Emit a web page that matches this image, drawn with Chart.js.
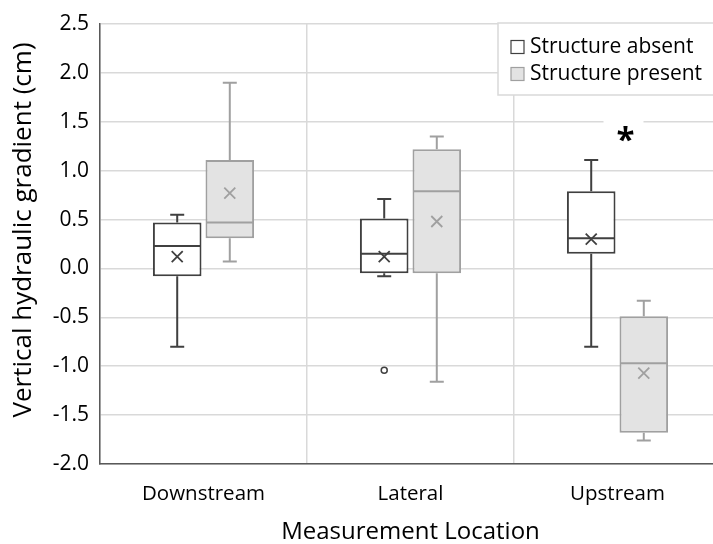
<!DOCTYPE html>
<html>
<head>
<meta charset="utf-8">
<script src="https://cdn.jsdelivr.net/npm/chart.js@4.4.1/dist/chart.umd.min.js"></script>
<style>
  html, body { margin: 0; padding: 0; background: #fff; overflow: hidden; }
  #wrap { width: 730px; height: 544px; }
</style>
</head>
<body>
<div id="wrap"><canvas id="boxChart"></canvas></div>
<script>
const locations = ['Downstream', 'Lateral', 'Upstream'];
const seriesNames = ['Structure absent', 'Structure present'];
const yTicks = [-2.0, -1.5, -1.0, -0.5, 0.0, 0.5, 1.0, 1.5, 2.0, 2.5];
const yTitle = 'Vertical hydraulic gradient (cm)';

// box summaries
const absentMin = [-0.80, -0.08, -0.80];
const absentQ1 = [-0.08, -0.05, 0.15];
const absentMedian = [0.23, 0.15, 0.31];
const absentQ3 = [0.47, 0.51, 0.79];
const absentMax = [0.55, 0.71, 1.11];
const absentMean = [0.12, 0.12, 0.30];
const absentOutliers = [[], [-1.04], []];

const presentMin = [0.07, -1.16, -1.76];
const presentQ1 = [0.31, -0.05, -1.68];
const presentMedian = [0.47, 0.79, -0.97];
const presentQ3 = [1.11, 1.22, -0.49];
const presentMax = [1.90, 1.35, -0.33];
const presentMean = [0.77, 0.48, -1.07];
const presentOutliers = [[], [], []];

// significance marker
const starLocation = 'Upstream';
const starValue = 1.38;

const FONT = '"Open Sans", "Noto Sans", sans-serif';

const stats = [
  { min: absentMin, q1: absentQ1, med: absentMedian, q3: absentQ3, max: absentMax, mean: absentMean, out: absentOutliers },
  { min: presentMin, q1: presentQ1, med: presentMedian, q3: presentQ3, max: presentMax, mean: presentMean, out: presentOutliers }
];

const lineColors = ['#404040', '#a0a0a0'];
const fillColors = ['#ffffff', '#e3e3e3'];

/* =========================
   WHISKERS, MEDIANS, MEANS
========================= */

const boxExtras = {
  id: 'boxExtras',
  afterDatasetsDraw(chart) {
    const ctx = chart.ctx;
    const y = chart.scales.y;

    chart.data.datasets.forEach((ds, i) => {
      const s = stats[i];
      const meta = chart.getDatasetMeta(i);

      meta.data.forEach((bar, j) => {
        const cx = bar.x;
        const half = bar.width / 2;
        const cap = 7;

        ctx.save();
        ctx.strokeStyle = lineColors[i];
        ctx.lineWidth = 2;

        // whiskers
        ctx.beginPath();
        ctx.moveTo(cx, y.getPixelForValue(s.q3[j]));
        ctx.lineTo(cx, y.getPixelForValue(s.max[j]));
        ctx.moveTo(cx - cap, y.getPixelForValue(s.max[j]));
        ctx.lineTo(cx + cap, y.getPixelForValue(s.max[j]));
        ctx.moveTo(cx, y.getPixelForValue(s.q1[j]));
        ctx.lineTo(cx, y.getPixelForValue(s.min[j]));
        ctx.moveTo(cx - cap, y.getPixelForValue(s.min[j]));
        ctx.lineTo(cx + cap, y.getPixelForValue(s.min[j]));
        ctx.stroke();

        // median
        ctx.beginPath();
        ctx.moveTo(cx - half + 1, y.getPixelForValue(s.med[j]));
        ctx.lineTo(cx + half - 1, y.getPixelForValue(s.med[j]));
        ctx.stroke();

        // mean marker
        const my = y.getPixelForValue(s.mean[j]);
        ctx.lineWidth = 1.8;
        ctx.beginPath();
        ctx.moveTo(cx - 5.5, my - 5.5);
        ctx.lineTo(cx + 5.5, my + 5.5);
        ctx.moveTo(cx + 5.5, my - 5.5);
        ctx.lineTo(cx - 5.5, my + 5.5);
        ctx.stroke();

        // outliers
        ctx.lineWidth = 1.5;
        s.out[j].forEach(v => {
          ctx.beginPath();
          ctx.arc(cx, y.getPixelForValue(v), 3, 0, Math.PI * 2);
          ctx.fillStyle = '#fff';
          ctx.fill();
          ctx.stroke();
        });
        ctx.restore();
      });
    });

    // asterisk
    const sx = chart.scales.x.getPixelForValue(locations.indexOf(starLocation)) + 8;
    const sy = y.getPixelForValue(starValue);
    ctx.save();
    ctx.fillStyle = '#fff';
    ctx.fillRect(sx - 22, sy - 16, 40, 30);
    ctx.fillStyle = '#000';
    ctx.font = 'bold 33px ' + FONT;
    ctx.textAlign = 'center';
    ctx.textBaseline = 'middle';
    ctx.fillText('*', sx, sy + 8);
    ctx.restore();
  }
};

/* =========================
   LEGEND BOX + Y TITLE
========================= */

const boxLegend = {
  id: 'boxLegend',
  afterDraw(chart) {
    const ctx = chart.ctx;
    const area = chart.chartArea;
    const left = area.left + 398;
    const top = area.top - 1;

    ctx.save();
    ctx.fillStyle = '#fff';
    ctx.strokeStyle = '#d9d9d9';
    ctx.lineWidth = 1.5;
    ctx.fillRect(left, top, chart.width - left + 10, 72);
    ctx.strokeRect(left, top, chart.width - left + 10, 72);

    ctx.font = '21px ' + FONT;
    ctx.textBaseline = 'middle';
    chart.data.datasets.forEach((ds, i) => {
      const ry = top + 24 + i * 27;
      ctx.fillStyle = fillColors[i];
      ctx.fillRect(left + 13, ry - 6.5, 13, 13);
      ctx.strokeStyle = lineColors[i];
      ctx.lineWidth = 1.2;
      ctx.strokeRect(left + 13, ry - 6.5, 13, 13);
      ctx.fillStyle = '#000';
      ctx.fillText(ds.label, left + 32, ry);
    });

    // y axis title, sits a little above the plot centre as in the original
    ctx.translate(24, (area.top + area.bottom) / 2 - 14);
    ctx.rotate(-Math.PI / 2);
    ctx.font = '26px ' + FONT;
    ctx.textAlign = 'center';
    ctx.fillText(yTitle, 0, 0);
    ctx.restore();
  }
};

function createChart() {
  const ctx = document.getElementById('boxChart').getContext('2d');

  new Chart(ctx, {
    type: 'bar',
    data: {
      labels: locations,
      datasets: stats.map((s, i) => ({
        label: seriesNames[i],
        data: s.q1.map((q, j) => [q, s.q3[j]]),
        backgroundColor: fillColors[i],
        borderColor: lineColors[i],
        borderWidth: 2,
        borderSkipped: false,
        categoryPercentage: 0.508,
        barPercentage: 0.924
      }))
    },
    options: {
      responsive: true,
      maintainAspectRatio: false,
      animation: false,
      layout: {
        padding: { top: 24, right: 9, left: 0, bottom: 0 }
      },
      scales: {
        x: {
          grid: { color: '#d9d9d9', lineWidth: 1.5, drawTicks: false, offset: true },
          border: { color: '#595959', width: 1.5 },
          ticks: { color: '#000', padding: 18, font: { family: FONT, size: 20.5 } },
          title: {
            display: true,
            text: 'Measurement Location',
            color: '#000',
            padding: { top: 10, bottom: -3 },
            font: { family: FONT, size: 24 }
          },
          afterFit(scale) { scale.height = 80; }
        },
        y: {
          min: yTicks[0],
          max: yTicks[yTicks.length - 1],
          afterBuildTicks(scale) {
            scale.ticks = yTicks.map(v => ({ value: v }));
          },
          grid: { color: '#d9d9d9', lineWidth: 1.5, drawTicks: false },
          border: { color: '#595959', width: 1.5 },
          ticks: {
            color: '#000',
            padding: 11,
            font: { family: FONT, size: 21 },
            callback: v => Number(v).toFixed(1)
          },
          afterFit(scale) { scale.width = 100; }
        }
      },
      plugins: {
        legend: { display: false },
        tooltip: { enabled: false }
      }
    },
    plugins: [boxExtras, boxLegend]
  });
}

createChart();
</script>
</body>
</html>
